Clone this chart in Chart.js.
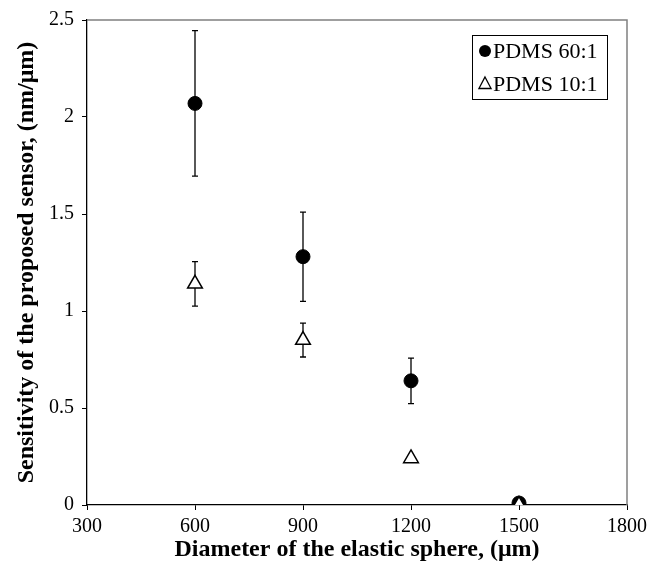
<!DOCTYPE html>
<html>
<head>
<meta charset="utf-8">
<script src="https://cdn.jsdelivr.net/npm/chart.js@4"></script>
<style>
html,body{margin:0;padding:0;background:#fff;}
#wrap{width:652px;height:577px;position:relative;}
</style>
</head>
<body>
<div id="wrap"><canvas id="c" width="652" height="577"></canvas></div>
<script>
// ---- data ----
const diameters = [600, 900, 1200, 1500];
const pdms60 = [2.07, 1.28, 0.64, 0.01];
const pdms60Err = [0.375, 0.23, 0.117, 0];
const pdms10 = [1.14, 0.85, 0.24, 0];
const pdms10Err = [0.115, 0.087, 0.02, 0];
const seriesLabels = ['PDMS 60:1', 'PDMS 10:1'];
const xTicks = ['300', '600', '900', '1200', '1500', '1800'];
const yTicks = ['0', '0.5', '1', '1.5', '2', '2.5'];
const xTitle = 'Diameter of the elastic sphere, (\u03bcm)';
const yTitle = 'Sensitivity of the proposed sensor, (nm/\u03bcm)';

const SERIF = '"Liberation Serif", "Times New Roman", serif';

function pts(xs, ys, es) {
  return xs.map((x, i) => ({x: x, y: ys[i], e: es[i]}));
}

const errorBars = {
  id: 'errorBars',
  beforeDatasetsDraw(chart) {
    const ctx = chart.ctx;
    const ys = chart.scales.y, xs = chart.scales.x;
    ctx.save();
    ctx.strokeStyle = '#000';
    ctx.lineWidth = 1.3;
    chart.data.datasets.forEach(ds => {
      ds.data.forEach(p => {
        if (!p.e) return;
        const px = xs.getPixelForValue(p.x);
        const top = ys.getPixelForValue(p.y + p.e);
        const bot = ys.getPixelForValue(p.y - p.e);
        ctx.beginPath();
        ctx.moveTo(px, top); ctx.lineTo(px, bot);
        ctx.moveTo(px - 3, top); ctx.lineTo(px + 3, top);
        ctx.moveTo(px - 3, bot); ctx.lineTo(px + 3, bot);
        ctx.stroke();
      });
    });
    ctx.restore();
  }
};

const frame = {
  id: 'frame',
  afterDraw(chart) {
    const {ctx, chartArea: a} = chart;
    ctx.save();
    ctx.strokeStyle = '#808080';
    ctx.lineWidth = 1.5;
    ctx.beginPath();
    ctx.moveTo(a.left, a.top); ctx.lineTo(a.right, a.top); ctx.lineTo(a.right, a.bottom);
    ctx.stroke();
    ctx.restore();
  }
};

const boxLegend = {
  id: 'boxLegend',
  afterDraw(chart) {
    const ctx = chart.ctx;
    const L = 472, T = 35, W = 135, H = 64;
    ctx.save();
    ctx.fillStyle = '#fff';
    ctx.fillRect(L, T, W, H);
    ctx.strokeStyle = '#000';
    ctx.lineWidth = 1;
    ctx.strokeRect(L + 0.5, T + 0.5, W, H);
    ctx.font = '22px ' + SERIF;
    ctx.textBaseline = 'middle';
    ctx.fillStyle = '#000';
    const rows = [T + 16, T + 49];
    chart.data.datasets.forEach((ds, i) => {
      const cy = rows[i], cx = L + 13;
      ctx.beginPath();
      if (ds.pointStyle === 'circle') {
        ctx.arc(cx, cy, 6, 0, Math.PI * 2);
        ctx.fillStyle = '#000';
        ctx.fill();
      } else {
        const r = 7;
        ctx.moveTo(cx, cy - r);
        ctx.lineTo(cx + r * 0.866, cy + r / 2 + 1);
        ctx.lineTo(cx - r * 0.866, cy + r / 2 + 1);
        ctx.closePath();
        ctx.fillStyle = '#fff';
        ctx.fill();
        ctx.lineWidth = 1.3;
        ctx.strokeStyle = '#000';
        ctx.stroke();
      }
      ctx.fillStyle = '#000';
      ctx.fillText(ds.label, L + 21, cy + 1);
    });
    ctx.restore();
  }
};

new Chart(document.getElementById('c'), {
  type: 'scatter',
  data: {
    datasets: [
      {
        label: seriesLabels[0],
        data: pts(diameters, pdms60, pdms60Err),
        pointStyle: 'circle',
        pointRadius: 7,
        pointBackgroundColor: '#000',
        pointBorderColor: '#000',
        pointBorderWidth: 1,
        order: 1
      },
      {
        label: seriesLabels[1],
        data: pts(diameters, pdms10, pdms10Err),
        pointStyle: 'triangle',
        pointRadius: 8.5,
        pointBackgroundColor: '#fff',
        pointBorderColor: '#000',
        pointBorderWidth: 1.5,
        order: 0
      }
    ]
  },
  options: {
    responsive: false,
    animation: false,
    devicePixelRatio: 1,
    layout: {padding: {top: 14, right: 24, left: 0, bottom: 0}},
    plugins: {legend: {display: false}, tooltip: {enabled: false}},
    scales: {
      x: {
        type: 'linear', min: 300, max: 1800,
        afterFit(s) { s.height = 72; },
        ticks: {stepSize: 300, color: '#000', padding: 5, font: {family: SERIF, size: 20},
                callback: (v, i) => xTicks[i]},
        grid: {display: true, drawOnChartArea: false, drawTicks: true, tickLength: 5, color: '#000'},
        border: {display: true, color: '#000', width: 1.3},
        title: {display: true, text: xTitle, color: '#000', padding: {top: 0, bottom: 13},
                font: {family: SERIF, size: 24, weight: 'bold'}}
      },
      y: {
        type: 'linear', min: 0, max: 2.5,
        afterFit(s) { s.width = 87; },
        ticks: {stepSize: 0.5, color: '#000', padding: 8, font: {family: SERIF, size: 20},
                callback: (v, i) => yTicks[i]},
        grid: {display: true, drawOnChartArea: false, drawTicks: true, tickLength: 5, color: '#000'},
        border: {display: true, color: '#000', width: 1.3},
        title: {display: true, text: yTitle, color: '#000', padding: {top: 12, bottom: 0},
                font: {family: SERIF, size: 24, weight: 'bold'}}
      }
    }
  },
  plugins: [errorBars, frame, boxLegend]
});
</script>
</body>
</html>
